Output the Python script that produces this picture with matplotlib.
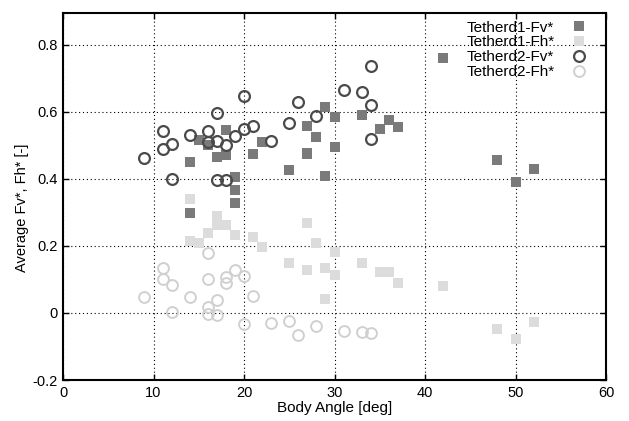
import matplotlib
matplotlib.use("Agg")
import matplotlib.pyplot as plt

plt.rcParams['font.family'] = ['Liberation Sans', 'DejaVu Sans']

# Tetherd1-Fv* (dark squares)
t1_fv_x = [14, 14, 15, 16, 17, 18, 18, 19, 19, 19, 21, 22, 25, 27, 27, 27, 28, 29, 29,
           30, 30, 33, 35, 36, 37, 42, 48, 50, 52]
t1_fv_y = [0.45, 0.298, 0.516, 0.50, 0.465, 0.546, 0.472, 0.407, 0.367, 0.327, 0.475, 0.51,
           0.427, 0.475, 0.558, 0.477, 0.526, 0.616, 0.409, 0.586, 0.494, 0.591, 0.548,
           0.576, 0.556, 0.76, 0.455, 0.39, 0.43]

# Tetherd1-Fh* (light squares)
t1_fh_x = [14, 14, 15, 16, 17, 17, 18, 19, 21, 22, 25, 27, 27, 28, 29, 29, 30, 30,
           33, 35, 36, 37, 42, 48, 50, 52]
t1_fh_y = [0.34, 0.216, 0.208, 0.24, 0.288, 0.262, 0.263, 0.233, 0.228, 0.198, 0.148,
           0.268, 0.128, 0.208, 0.133, 0.041, 0.183, 0.113, 0.148, 0.123, 0.123, 0.089,
           0.081, -0.048, -0.079, -0.026]

# Tetherd2-Fv* (dark open circles)
t2_fv_x = [9, 11, 11, 12, 12, 14, 16, 16, 17, 17, 17, 18, 18, 19, 20, 20, 21, 23,
           25, 26, 28, 31, 33, 34, 34, 34]
t2_fv_y = [0.462, 0.543, 0.49, 0.504, 0.399, 0.531, 0.544, 0.511, 0.596, 0.513, 0.397,
           0.501, 0.397, 0.528, 0.548, 0.646, 0.558, 0.514, 0.568, 0.629, 0.587, 0.666,
           0.66, 0.738, 0.621, 0.52]

# Tetherd2-Fh* (light open circles)
t2_fh_x = [9, 11, 11, 12, 12, 14, 16, 16, 16, 16, 17, 17, 18, 18, 19, 20, 20, 21,
           23, 25, 26, 28, 31, 33, 34]
t2_fh_y = [0.048, 0.133, 0.101, 0.084, 0.002, 0.048, 0.18, 0.10, 0.019, -0.002, 0.039,
           -0.006, 0.108, 0.089, 0.127, 0.109, -0.033, 0.052, -0.03, -0.025, -0.066,
           -0.038, -0.053, -0.056, -0.06]

labels = ["Tetherd1-Fv*", "Tetherd1-Fh*", "Tetherd2-Fv*", "Tetherd2-Fh*"]
xticks = [0, 10, 20, 30, 40, 50, 60]
yticks = [-0.2, 0, 0.2, 0.4, 0.6, 0.8]
ytick_labels = ["-0.2", "0", "0.2", "0.4", "0.6", "0.8"]

fig = plt.figure(figsize=(6.29, 4.21), dpi=100)
ax = fig.add_axes([63/629, 41/421, (606-63)/629, (380-13)/421])

ms = 7.8
ax.plot(t1_fv_x, t1_fv_y, 's', color='#7a7a7a', markersize=ms, markeredgewidth=0,
        label=labels[0], zorder=3)
ax.plot(t1_fh_x, t1_fh_y, 's', color='#dcdcdc', markersize=ms, markeredgewidth=0,
        label=labels[1], zorder=3)
ax.plot(t2_fv_x, t2_fv_y, 'o', markerfacecolor='none', markeredgecolor='#4a4a4a',
        markersize=ms, markeredgewidth=1.6, label=labels[2], zorder=4)
ax.plot(t2_fh_x, t2_fh_y, 'o', markerfacecolor='none', markeredgecolor='#d0d0d0',
        markersize=ms, markeredgewidth=1.4, label=labels[3], zorder=4)

ax.set_xlim(0, 60)
ax.set_ylim(-0.2, 0.895)
ax.set_xticks(xticks)
ax.set_xticklabels([str(t) for t in xticks])
ax.set_yticks(yticks)
ax.set_yticklabels(ytick_labels)
ax.tick_params(direction='in', top=True, right=True, length=4, width=1,
               labelsize=10.5, colors='black', pad=4)
ax.grid(True, color='black', linestyle=(0, (1, 2.5)), linewidth=0.8, zorder=0)
for s in ax.spines.values():
    s.set_linewidth(1.5)

ax.set_xlabel("Body Angle [deg]", fontsize=11, labelpad=1)
ax.set_ylabel("Average Fv*, Fh* [-]", fontsize=10.5)
ax.yaxis.set_label_coords(-0.062, 0.47)

leg = ax.legend(loc='upper right', bbox_to_anchor=(0.978, 1.0), markerfirst=False,
                frameon=False, fontsize=11, labelspacing=0.05, handlelength=1.0,
                handletextpad=1.1, borderaxespad=0.3, borderpad=0.2)
for t in leg.get_texts():
    t.set_color('black')

fig.savefig("out.png", dpi=100)
